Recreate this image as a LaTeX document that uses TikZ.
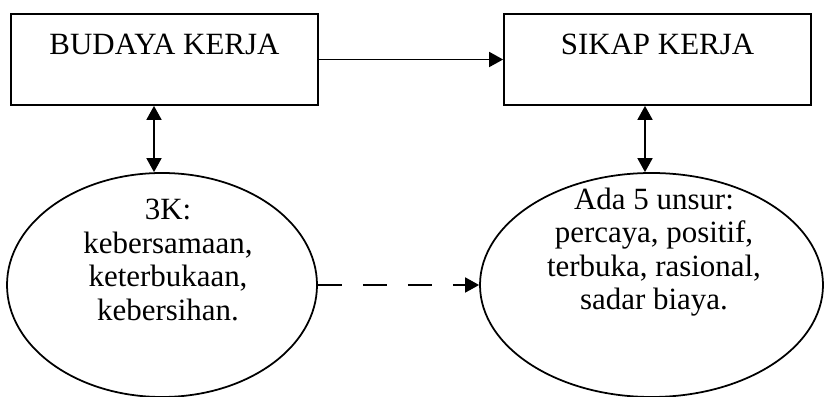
\documentclass[tikz,border=0pt]{standalone}
\usepackage{fontspec}
\setmainfont{Liberation Serif}
\usetikzlibrary{arrows.meta, positioning, shapes.geometric}

\begin{document}
\begin{tikzpicture}[
  >={Triangle[length=0.28cm,width=0.3cm]},
  kotak/.style={draw,line width=1pt,minimum width=6.14cm,inner xsep=0pt,inner ysep=0pt,text height=0.82cm,text depth=1.0cm,font=\fontsize{17.6}{19}\selectfont},
  elips/.style={draw,ellipse,line width=1pt,minimum height=4.48cm,inner sep=0pt},
  isi/.style={align=center,font=\fontsize{17.6}{19}\selectfont}]
  \useasboundingbox (0,0) rectangle (16.48,7.94);
  \node[kotak] (budaya) at (3.29,6.75) {BUDAYA KERJA};
  \node[kotak] (sikap) at (13.15,6.75) {SIKAP KERJA};
  \node[elips,minimum width=6.2cm] (tigak) at (3.24,2.24) {};
  \node[elips,minimum width=6.86cm] (unsur) at (13.03,2.24) {};
  \node[isi] (tigaktxt) at ([xshift=0.12cm,yshift=0.5cm]tigak.center) {3K:\\kebersamaan,\\keterbukaan,\\kebersihan.};
  \node[isi] (unsurtxt) at ([xshift=0.05cm,yshift=0.66cm]unsur.center) {Ada 5 unsur:\\percaya, positif,\\terbuka, rasional,\\sadar biaya.};
  \coordinate (tigakatas) at ([xshift=-0.16cm]tigak.north);
  \coordinate (unsuratas) at ([xshift=-0.13cm]unsur.north);
  \draw[->,line width=1pt] (budaya) -- (sikap);
  \draw[<->,line width=1pt] (tigakatas) -- (tigakatas |- budaya.south);
  \draw[<->,line width=1pt] (unsuratas) -- (unsuratas |- sikap.south);
  \draw[->,line width=1pt,dash pattern=on 0.48cm off 0.42cm] (tigak.east) -- (unsur.west);
\end{tikzpicture}
\end{document}
